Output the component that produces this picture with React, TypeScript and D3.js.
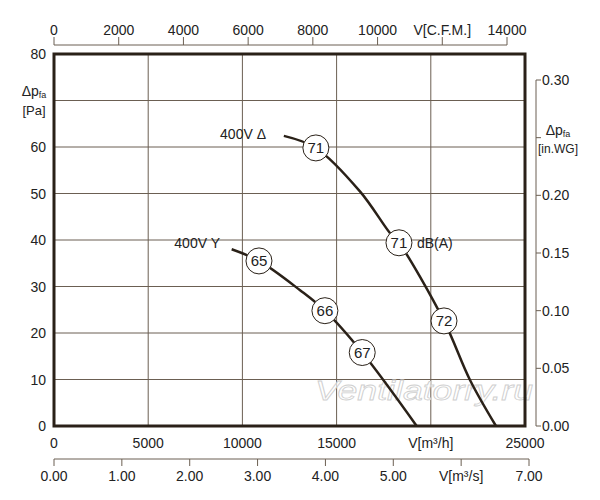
import * as d3 from 'd3';

// Axis ticks
const flowTicks = [0, 5000, 10000, 15000, 20000, 25000];
const pressureTicks = [0, 10, 20, 30, 40, 50, 60, 70, 80];
const cfmTicks = [0, 2000, 4000, 6000, 8000, 10000, 12000, 14000];
const m3sTicks = [0, 1, 2, 3, 4, 5, 6, 7];
const inwgTicks = [0, 0.05, 0.1, 0.15, 0.2, 0.25, 0.3];

// 400V Δ curve (m³/h, Pa)
const deltaFlow = [12200, 13900, 16250, 17830, 18310, 20700, 22080, 23460];
const deltaPressure = [62.4, 59.8, 50.4, 41.5, 39.4, 22.6, 9.9, 0];
// 400V Y curve
const starFlow = [9430, 10880, 13060, 14380, 16360, 19250];
const starPressure = [38.0, 35.5, 29.2, 24.8, 15.8, 0];

// noise markers dB(A)
const deltaMarkFlow = [13900, 18310, 20700];
const deltaMarkPressure = [59.8, 39.4, 22.6];
const deltaMarkDb = [71, 71, 72];
const starMarkFlow = [10880, 14380, 16360];
const starMarkPressure = [35.5, 24.8, 15.8];
const starMarkDb = [65, 66, 67];

const ink = '#2a2118';
const gridColor = '#6b5f52';
const font = '"Liberation Sans", Arial, sans-serif';

export default function App() {
  const x = d3.scaleLinear().domain([0, 25000]).range([54, 525]);
  const y = d3.scaleLinear().domain([0, 80]).range([426, 54]);
  const xCfm = d3.scaleLinear().domain([0, 14000]).range([54, 507]);
  const xM3s = d3.scaleLinear().domain([0, 7]).range([54, 529]);
  const yIn = d3.scaleLinear().domain([0, 0.3]).range([426, 80]);

  const line = d3.line<[number, number]>()
    .x(d => x(d[0]))
    .y(d => y(d[1]))
    .curve(d3.curveCatmullRom.alpha(0.5));

  const deltaPts = deltaFlow.map((f, i) => [f, deltaPressure[i]] as [number, number]);
  const starPts = starFlow.map((f, i) => [f, starPressure[i]] as [number, number]);

  const marks = [
    ...deltaMarkFlow.map((f, i) => ({ f, p: deltaMarkPressure[i], db: deltaMarkDb[i] })),
    ...starMarkFlow.map((f, i) => ({ f, p: starMarkPressure[i], db: starMarkDb[i] })),
  ];

  const topAxisY = 45;
  const bottomAxisY = 459;
  const rightAxisX = 536;

  return (
    <svg width={600} height={500} style={{ position: 'absolute', left: 0, top: 0, background: '#fff' }}
      fontFamily={font} fontSize={14} fill="#222">
      {/* grid */}
      {flowTicks.slice(1, -1).map(v => (
        <line key={'gx' + v} x1={x(v)} x2={x(v)} y1={y(80)} y2={y(0)} stroke={gridColor} strokeWidth={1} />
      ))}
      {pressureTicks.slice(1, -1).map(v => (
        <line key={'gy' + v} x1={x(0)} x2={x(25000)} y1={y(v)} y2={y(v)} stroke={gridColor} strokeWidth={1} />
      ))}

      {/* watermark */}
      <text x={315} y={400} fontSize={28} fontStyle="italic" fill="#fff" fillOpacity={0.7} stroke="#cfcfcf"
        strokeWidth={0.8} textLength={218} lengthAdjust="spacingAndGlyphs">Ventilatorry.ru</text>

      {/* curves */}
      <path d={line(deltaPts) || ''} fill="none" stroke={ink} strokeWidth={2.5} />
      <path d={line(starPts) || ''} fill="none" stroke={ink} strokeWidth={2.5} />

      {/* frame */}
      <rect x={x(0)} y={y(80)} width={x(25000) - x(0)} height={y(0) - y(80)} fill="none" stroke={ink} strokeWidth={3} />

      {/* markers */}
      {marks.map((m, i) => (
        <g key={'m' + i}>
          <circle cx={x(m.f)} cy={y(m.p)} r={13} fill="#fff" stroke={ink} strokeWidth={1} />
          <text x={x(m.f)} y={y(m.p)} textAnchor="middle" dominantBaseline="central" fontSize={15}>{m.db}</text>
        </g>
      ))}

      {/* curve labels */}
      <text x={266} y={134} textAnchor="end" dominantBaseline="central">400V Δ</text>
      <text x={220} y={243} textAnchor="end" dominantBaseline="central">400V Y</text>
      <text x={417} y={243} dominantBaseline="central">dB(A)</text>

      {/* left axis labels (70 replaced by unit label) */}
      {pressureTicks.filter(v => v !== 70).map(v => (
        <text key={'ly' + v} x={46} y={y(v)} textAnchor="end" dominantBaseline="central">{v}</text>
      ))}
      <text x={34} y={91} textAnchor="middle" dominantBaseline="central">
        Δp<tspan fontSize={9} dy={4}>fa</tspan>
      </text>
      <text x={34} y={110} textAnchor="middle" dominantBaseline="central" fontSize={13}>[Pa]</text>

      {/* bottom main labels */}
      {flowTicks.map(v => (
        <text key={'lx' + v} x={x(v)} y={443} textAnchor="middle" dominantBaseline="central">
          {v === 20000 ? 'V[m³/h]' : v}
        </text>
      ))}

      {/* top CFM axis */}
      <line x1={xCfm(0)} x2={xCfm(14000)} y1={topAxisY} y2={topAxisY} stroke={gridColor} strokeWidth={1} />
      {cfmTicks.map(v => (
        <g key={'c' + v}>
          <line x1={xCfm(v)} x2={xCfm(v)} y1={topAxisY} y2={topAxisY - 8} stroke={gridColor} strokeWidth={1} />
          <text x={xCfm(v)} y={30} textAnchor="middle" dominantBaseline="central">
            {v === 12000 ? 'V[C.F.M.]' : v}
          </text>
        </g>
      ))}

      {/* bottom m³/s axis */}
      <line x1={xM3s(0)} x2={xM3s(7)} y1={bottomAxisY} y2={bottomAxisY} stroke={gridColor} strokeWidth={1} />
      {m3sTicks.map(v => (
        <g key={'s' + v}>
          <line x1={xM3s(v)} x2={xM3s(v)} y1={bottomAxisY} y2={bottomAxisY + 7} stroke={gridColor} strokeWidth={1} />
          <text x={xM3s(v)} y={476} textAnchor="middle" dominantBaseline="central">
            {v === 6 ? 'V[m³/s]' : v.toFixed(2)}
          </text>
        </g>
      ))}

      {/* right in.WG axis */}
      <line x1={rightAxisX} x2={rightAxisX} y1={yIn(0.3)} y2={yIn(0)} stroke={gridColor} strokeWidth={1} />
      {inwgTicks.map(v => (
        <g key={'w' + v}>
          <line x1={rightAxisX} x2={rightAxisX + 5} y1={yIn(v)} y2={yIn(v)} stroke={gridColor} strokeWidth={1} />
          {Math.abs(v - 0.25) > 1e-6 && (
            <text x={rightAxisX + 6} y={yIn(v)} dominantBaseline="central">{v.toFixed(2)}</text>
          )}
        </g>
      ))}
      <text x={558} y={130} textAnchor="middle" dominantBaseline="central">
        Δp<tspan fontSize={9} dy={4}>fa</tspan>
      </text>
      <text x={558} y={149} textAnchor="middle" dominantBaseline="central" fontSize={12}>[in.WG]</text>
    </svg>
  );
}
